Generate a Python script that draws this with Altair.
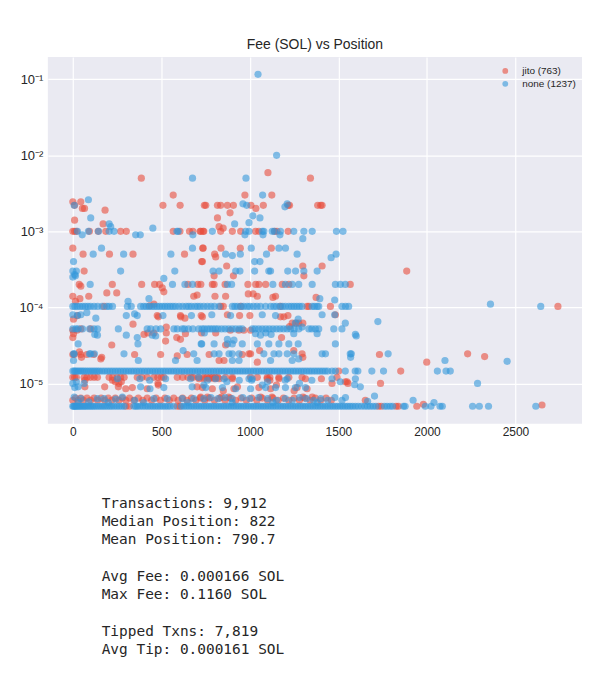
import altair as alt
import pandas as pd

JITO = "jito (763)"
NONE = "none (1237)"
RED = "#e74c3c"
BLUE = "#3498db"

# ---------------- jito (red) ----------------
J_60E6 = [0, 30, 60, 100, 140, 180, 220, 260, 300, 345, 395, 445, 495, 545, 595, 645, 695,
          745, 800, 860, 920, 980, 1040, 1100, 1160, 1220, 1280, 1340, 1400, 1460, 1652]
J_64E6 = [15, 45, 80, 120, 160, 200, 240, 280, 320, 370, 420, 470, 520, 570, 620, 670, 720,
          770, 830, 890, 950, 1010, 1070, 1130, 1190, 1250, 1310, 1370, 1430]
J_5E6 = [300, 320, 590, 605, 1727, 1742, 1826, 1839, 1943]
J_12E5 = [0, 10, 20, 64, 80, 100, 120, 139, 205, 225, 250, 270, 290, 364, 390, 420, 458, 480,
          500, 514, 590, 620, 650, 680, 710, 740, 758, 775, 790, 805, 820, 863, 901, 1004, 1042,
          1098, 1113, 1164, 1220, 1295]
J_22E4 = [509, 606, 743, 751, 817, 835, 873, 907, 1006, 1076, 1216, 1224, 1383, 1400, 1408]
J_1E3 = [0, 10, 20, 94, 143, 186, 270, 302, 567, 605, 659, 678, 719, 723, 736, 740, 835, 901,
         948, 1032, 1051, 1140, 1153, 1216]
J_2E4 = [36, 223, 389, 462, 490, 650, 706, 723, 788, 798, 860, 989, 1033, 1051, 1089, 1183,
         1220, 1567]
J_OTHER = [
    (387, 5e-3), (1342, 5e-3), (1102, 5.9e-3), (567, 3e-3), (972, 3e-3), (1124, 3e-3),
    (0, 2.45e-3), (45, 2.45e-3), (54, 2e-3), (66, 2e-3), (10, 2.2e-3), (182, 1.9e-3),
    (1034, 2e-3), (888, 1.75e-3), (817, 1.5e-3), (826, 1.15e-3), (849, 1.1e-3), (10, 1.4e-3),
    (171, 1.25e-3), (0, 6e-4), (734, 6e-4), (736, 6e-4), (837, 6e-4), (946, 6e-4), (1121, 6e-4),
    (58, 5e-4), (207, 5e-4), (340, 5e-4), (631, 5e-4), (801, 5e-4), (807, 4.6e-4), (728, 4e-4),
    (732, 4e-4), (1299, 3.5e-4), (1408, 3.5e-4), (64, 3e-4), (869, 3.5e-4), (907, 2.6e-4),
    (798, 2.6e-4), (1305, 2.6e-4), (1886, 3e-4), (45, 1.9e-4), (505, 1.8e-4), (514, 1.6e-4),
    (192, 1.55e-4), (248, 1.55e-4), (991, 1.5e-4), (1019, 1.5e-4), (1042, 1.4e-4),
    (1145, 1.4e-4), (803, 1.4e-4), (863, 1.4e-4), (1130, 1.35e-4), (1374, 1.35e-4),
    (683, 1.4e-4), (702, 1.45e-4), (0, 1.4e-4), (40, 1.3e-4), (15, 1.2e-4), (90, 1.4e-4),
    (177, 1.03e-4), (434, 1.05e-4), (458, 1.1e-4), (835, 1.03e-4), (850, 1.03e-4),
    (948, 1.03e-4), (1173, 1.03e-4), (1323, 1.03e-4), (1333, 1.03e-4), (1455, 1.03e-4),
    (2740, 1.03e-4), (26, 7.8e-5), (4, 7e-5), (477, 7.8e-5), (608, 7.8e-5), (633, 7.2e-5),
    (725, 7.8e-5), (483, 7.5e-5), (610, 7.5e-5), (732, 7.5e-5), (873, 8e-5), (942, 7.8e-5),
    (1000, 7.8e-5), (1215, 7.8e-5), (1483, 8e-5), (1173, 7.5e-5), (1192, 7.5e-5), (340, 6e-5),
    (1239, 6.2e-5), (1261, 6.2e-5), (1276, 6.2e-5), (1299, 6.2e-5), (1224, 5.6e-5),
    (528, 5.5e-5), (0, 5e-5), (23, 5e-5), (45, 5.2e-5), (101, 5.2e-5), (402, 4.4e-5),
    (424, 4.6e-5), (458, 4.6e-5), (528, 4.6e-5), (636, 4.5e-5), (727, 4.6e-5), (807, 4.6e-5),
    (890, 5e-5), (938, 5e-5), (966, 5e-5), (1004, 5e-5), (4, 4.5e-5), (0, 4e-5), (587, 4e-5),
    (524, 3.6e-5), (608, 3.8e-5), (863, 3.2e-5), (1179, 4e-5), (220, 3.2e-5), (37, 2.6e-5),
    (0, 2.4e-5), (8, 2.4e-5), (45, 2.4e-5), (79, 2.4e-5), (117, 2.4e-5), (49, 2.2e-5),
    (158, 2.1e-5), (163, 2.2e-5), (349, 2.4e-5), (496, 2.4e-5), (590, 2.3e-5), (646, 2.4e-5),
    (770, 2.4e-5), (826, 2e-5), (854, 2e-5), (957, 2.4e-5), (995, 2.45e-5), (1004, 2.45e-5),
    (1042, 1.9e-5), (1055, 2.7e-5), (1248, 2.7e-5), (1295, 2.45e-5), (1299, 2.2e-5),
    (1732, 2.4e-5), (1999, 1.9e-5), (2230, 2.45e-5), (2326, 2.25e-5), (1502, 1.45e-5),
    (1852, 1.45e-5), (224, 1.1e-5), (240, 1.05e-5), (260, 1e-5), (274, 1.05e-5), (68, 1.1e-5),
    (68, 9e-6), (180, 9e-6), (257, 9e-6), (299, 8.5e-6), (336, 8.8e-6), (420, 8.5e-6),
    (483, 9.5e-6), (702, 9e-6), (481, 1e-5), (670, 1.2e-5), (713, 1.15e-5), (740, 1.15e-5),
    (770, 1.15e-5), (800, 1.15e-5), (826, 1.15e-5), (901, 1.15e-5), (1098, 1.15e-5),
    (1113, 1.1e-5), (1164, 1.15e-5), (1314, 1.15e-5), (1404, 1.15e-5), (1549, 1.05e-5),
    (732, 8.8e-6), (788, 8.5e-6), (910, 8.5e-6), (1051, 8.8e-6), (1117, 8.5e-6), (1267, 8.8e-6),
    (1323, 8.5e-6), (1464, 1e-5), (1492, 1.2e-5), (1539, 1.05e-5), (1554, 1e-5), (1738, 1e-5),
    (850, 8e-6), (930, 9e-6), (1150, 9.5e-6), (1250, 8e-6), (1980, 5.3e-6), (2650, 5.2e-6),
    (722, 6.6e-6), (760, 6.6e-6), (840, 6.6e-6), (880, 6.6e-6), (1060, 6.6e-6), (1125, 6.6e-6),
    (1300, 6.6e-6), (1352, 6.6e-6),
]

# ---------------- none (blue) ----------------
N_5E6 = [0, 5, 10, 16, 22, 30, 38, 46, 55, 64, 72, 82, 92, 102, 112, 122, 134, 146, 158, 170,
         182, 195, 208, 220, 234, 248, 262, 276, 290, 345, 356, 366, 380, 395, 410, 424, 438,
         452, 466, 480, 494, 508, 522, 536, 550, 570, 614, 628, 642, 656, 670, 684, 698, 712,
         726, 740, 754, 768, 782, 796, 810, 824, 838, 852, 866, 880, 894, 908, 922, 936, 950,
         964, 978, 992, 1006, 1020, 1034, 1048, 1062, 1076, 1090, 1104, 1118, 1132, 1146, 1160,
         1174, 1188, 1202, 1216, 1230, 1244, 1258, 1272, 1286, 1300, 1314, 1328, 1342, 1356,
         1370, 1384, 1398, 1412, 1426, 1440, 1454, 1468, 1482, 1496, 1510, 1524, 1538, 1552,
         1566, 1580, 1596, 1612, 1630, 1648, 1664, 1680, 1696, 1712, 1760, 1775, 1792, 1806,
         1868, 1877, 1991, 2023, 2074, 2087, 2258, 2296, 2348, 2615]
N_145E5 = [0, 8, 16, 25, 35, 45, 55, 66, 78, 90, 102, 114, 126, 138, 150, 165, 180, 195, 210,
           225, 240, 255, 270, 285, 300, 315, 330, 345, 360, 375, 390, 405, 420, 435, 450, 465,
           480, 495, 510, 525, 540, 555, 570, 585, 600, 615, 630, 645, 660, 675, 690, 705, 720,
           735, 750, 765, 780, 795, 810, 825, 840, 855, 870, 885, 900, 915, 930, 945, 960, 975,
           990, 1005, 1020, 1035, 1050, 1065, 1080, 1095, 1110, 1125, 1140, 1155, 1170, 1185,
           1200, 1215, 1230, 1245, 1260, 1275, 1290, 1305, 1320, 1335, 1350, 1365, 1380, 1395,
           1410, 1425, 1440, 1464, 1483, 1539, 1595, 1610, 1689, 1755, 2059, 2108, 2132]
N_1E4 = [0, 12, 25, 40, 55, 70, 85, 100, 120, 140, 165, 192, 205, 224, 308, 383, 400, 415, 430,
         445, 460, 475, 490, 505, 520, 535, 550, 565, 580, 600, 620, 640, 655, 670, 690, 705,
         720, 740, 760, 780, 800, 826, 901, 915, 930, 950, 965, 985, 1000, 1020, 1040, 1060,
         1089, 1117, 1135, 1150, 1170, 1185, 1201, 1220, 1235, 1250, 1265, 1280, 1295, 1352,
         1365, 1380, 1389, 1520, 1540, 1558]
N_5E5 = [0, 17, 30, 55, 95, 120, 140, 257, 420, 440, 470, 496, 571, 590, 618, 631, 653, 678,
         711, 730, 743, 760, 775, 790, 805, 820, 840, 860, 880, 900, 920, 940, 957, 1014, 1030,
         1050, 1070, 1090, 1110, 1130, 1150, 1170, 1190, 1210, 1230, 1250, 1276, 1333, 1350,
         1370, 1389, 1474, 1520]
N_1E3 = [26, 88, 145, 205, 233, 588, 595, 788, 976, 995, 1070, 1079, 1126, 1138, 1173, 1248,
         1305, 1352, 1489, 1526]
N_3E4 = [0, 20, 270, 576, 792, 826, 920, 944, 1027, 1107, 1117, 1214, 1258, 1305, 1380]
N_2E4 = [98, 563, 633, 676, 873, 897, 1130, 1201, 1239, 1276, 1352, 1483, 1511, 1539]
N_24E5 = [4, 8, 94, 101, 122, 289, 683, 798, 826, 882, 901, 939, 1079, 1136, 1164, 1211, 1248,
          1408, 1427, 1567, 1573, 1781]
N_33E5 = [728, 798, 873, 901, 957, 1042, 1107, 1164, 1220, 1273, 1483, 30, 368, 725]
N_OTHER = [
    (1046, 0.116), (1151, 1e-2), (676, 5e-3), (978, 5e-3), (1072, 3e-3), (8, 2.2e-3),
    (88, 2.6e-3), (961, 2.3e-3), (982, 2.2e-3), (1198, 2.1e-3), (1211, 2.3e-3), (101, 1.5e-3),
    (205, 1.25e-3), (214, 1.15e-3), (1017, 1.6e-3), (1057, 1.5e-3), (995, 1.3e-3),
    (914, 1.25e-3), (452, 1.1e-3), (53, 9e-4), (355, 9e-4), (381, 9e-4), (678, 9e-4),
    (972, 9e-4), (1074, 9e-4), (1170, 9e-4), (1299, 8e-4), (162, 6e-4), (115, 5e-4),
    (287, 5e-4), (554, 5e-4), (676, 6e-4), (863, 5e-4), (901, 4.8e-4), (946, 5e-4),
    (1008, 6e-4), (1164, 6e-4), (1201, 6e-4), (1267, 5e-4), (1487, 5e-4), (1459, 4.5e-4),
    (1094, 5e-4), (4, 4e-4), (1027, 4e-4), (1057, 4e-4), (10, 2.7e-4), (0, 2.5e-4),
    (15, 2.6e-4), (514, 2.4e-4), (1479, 1.25e-4), (1395, 1.3e-4), (312, 1.2e-4),
    (330, 1.03e-4), (430, 1.3e-4), (2359, 1.1e-4), (2643, 1.03e-4), (0, 8e-5), (26, 7.8e-5),
    (45, 8e-5), (79, 8.5e-5), (130, 7.2e-5), (302, 7.8e-5), (349, 8.2e-5), (364, 7.8e-5),
    (509, 7.8e-5), (670, 7.8e-5), (785, 8e-5), (891, 7.8e-5), (1070, 8e-5), (1145, 7.8e-5),
    (1273, 7e-5), (1408, 8e-5), (1479, 8e-5), (1723, 6.5e-5), (1539, 6.2e-5), (1257, 6.2e-5),
    (1295, 5.5e-5), (124, 4.4e-5), (139, 4.3e-5), (302, 4.3e-5), (364, 4e-5), (449, 4.3e-5),
    (468, 4.2e-5), (743, 4.6e-5), (1032, 4.5e-5), (1060, 4.3e-5), (1090, 4.6e-5),
    (1120, 4.4e-5), (1596, 4.4e-5), (1380, 4.5e-5), (873, 3.8e-5), (910, 3.7e-5),
    (1248, 4.5e-5), (1601, 4.2e-5), (623, 2.7e-5), (370, 2e-5), (702, 2e-5), (580, 2e-5),
    (901, 2e-5), (939, 2e-5), (1117, 2e-5), (1239, 2e-5), (1276, 2.1e-5), (1569, 2.2e-5),
    (2102, 2e-5), (2453, 1.95e-5), (4, 2e-5), (0, 1e-5), (20, 1.05e-5), (64, 1e-5),
    (252, 1.15e-5), (379, 1.15e-5), (434, 1.1e-5), (524, 1.15e-5), (665, 1.15e-5),
    (711, 1.2e-5), (807, 1.15e-5), (854, 1.15e-5), (995, 1.15e-5), (1014, 1.15e-5),
    (1211, 1.15e-5), (1464, 1.15e-5), (1511, 1.05e-5), (1596, 1.15e-5), (11, 8.8e-6),
    (30, 9e-6), (383, 9e-6), (436, 8.5e-6), (514, 8.8e-6), (674, 9e-6), (740, 9.5e-6),
    (751, 8.8e-6), (845, 8.8e-6), (920, 8.5e-6), (1004, 8.5e-6), (1070, 9.5e-6),
    (1089, 8.8e-6), (1145, 8.8e-6), (1201, 8.8e-6), (1257, 8.8e-6), (1314, 8.8e-6),
    (1592, 9.6e-6), (1624, 9e-6), (2286, 1e-5), (1704, 6.8e-6), (1665, 5.8e-6),
    (1922, 6e-6), (2040, 5.6e-6), (8, 6.6e-6), (45, 6.3e-6), (139, 6.3e-6), (177, 6.3e-6),
    (242, 6.2e-6), (280, 6.6e-6), (349, 6e-6), (458, 6.3e-6), (533, 6.3e-6), (618, 6.3e-6),
    (683, 6.3e-6), (740, 6.3e-6), (780, 6.5e-6), (820, 6.3e-6), (860, 6.5e-6), (900, 6.3e-6),
    (960, 6.5e-6), (1000, 6.3e-6), (1050, 6.5e-6), (1100, 6.3e-6), (1150, 6e-6),
    (1200, 6.3e-6), (1240, 6e-6), (1280, 6.5e-6), (1320, 6.3e-6), (1360, 6e-6),
    (1400, 6.3e-6), (1440, 6e-6), (1480, 6.5e-6), (1520, 6e-6), (1540, 6.5e-6),
    (760, 1.1e-5), (870, 1.05e-5), (940, 1.1e-5), (1010, 1.1e-5), (1100, 1.05e-5),
    (1200, 1.1e-5), (1280, 1e-5), (1350, 1.1e-5), (30, 5.6e-6), (90, 5.7e-6), (200, 5.6e-6),
    (400, 5.6e-6), (650, 5.6e-6), (900, 5.6e-6), (1130, 5.6e-6), (1380, 5.6e-6),
]

STATS_LINES = [
    "Transactions: 9,912",
    "Median Position: 822",
    "Mean Position: 790.7",
    "",
    "Avg Fee: 0.000166 SOL",
    "Max Fee: 0.1160 SOL",
    "",
    "Tipped Txns: 7,819",
    "Avg Tip: 0.000161 SOL",
]

X_TICKS = [0, 500, 1000, 1500, 2000, 2500]
Y_TICKS = [1e-5, 1e-4, 1e-3, 1e-2, 1e-1]

rows = []


def add_band(group, positions, fee):
    for p in positions:
        rows.append({"pos": p, "fee": fee, "group": group})


def add_pairs(group, pairs):
    for p, f in pairs:
        rows.append({"pos": p, "fee": f, "group": group})


add_band(JITO, J_60E6, 6.0e-6)
add_band(JITO, J_64E6, 6.4e-6)
add_band(JITO, J_5E6, 5e-6)
add_band(JITO, J_12E5, 1.2e-5)
add_band(JITO, J_22E4, 2.2e-3)
add_band(JITO, J_1E3, 1e-3)
add_band(JITO, J_2E4, 2e-4)
add_pairs(JITO, J_OTHER)
add_band(NONE, N_5E6, 5e-6)
add_band(NONE, N_145E5, 1.45e-5)
add_band(NONE, N_1E4, 1.03e-4)
add_band(NONE, N_5E5, 5.2e-5)
add_band(NONE, N_1E3, 1e-3)
add_band(NONE, N_3E4, 3e-4)
add_band(NONE, N_2E4, 2e-4)
add_band(NONE, N_24E5, 2.45e-5)
add_band(NONE, N_33E5, 3.3e-5)
add_pairs(NONE, N_OTHER)

df = pd.DataFrame(rows)

stats_df = pd.DataFrame({"line": list(range(len(STATS_LINES))), "text": STATS_LINES})
stats_df = stats_df[stats_df["text"] != ""]

label_expr = ("datum.value >= 0.05 ? '10⁻¹' : datum.value >= 0.005 ? '10⁻²' : "
              "datum.value >= 0.0005 ? '10⁻³' : datum.value >= 0.00005 ? '10⁻⁴' : '10⁻⁵'")

points = alt.Chart(df).mark_circle(size=52, opacity=0.6).encode(
    x=alt.X("pos:Q",
            scale=alt.Scale(domain=[-141, 2876], nice=False, zero=False),
            axis=alt.Axis(values=X_TICKS, format="d", title=None, labelPadding=3)),
    y=alt.Y("fee:Q",
            scale=alt.Scale(type="log", domain=[2.95e-6, 0.1965], nice=False),
            axis=alt.Axis(values=Y_TICKS, labelExpr=label_expr, title=None, labelPadding=5,
                          labelFontSize=13)),
    color=alt.Color("group:N",
                    scale=alt.Scale(domain=[JITO, NONE], range=[RED, BLUE]),
                    legend=alt.Legend(title=None, orient="none", legendX=454, legendY=9,
                                      symbolType="circle", symbolSize=34, symbolOpacity=0.6,
                                      symbolStrokeWidth=0, labelFont="Liberation Sans",
                                      labelFontSize=10, labelColor="#262626", labelOffset=12,
                                      rowPadding=3, padding=0)),
)

stats = alt.Chart(stats_df).mark_text(
    align="left", baseline="middle", font="DejaVu Sans Mono", fontSize=14.5,
    color="#262626"
).encode(
    text="text:N",
    x=alt.value(54),
    y=alt.Y("line:Q", scale=alt.Scale(domain=[0, 8], range=[448.5, 594.9]), axis=None),
)

chart = alt.layer(points, stats).resolve_scale(y="independent").properties(
    width=536, height=368,
    title=alt.TitleParams("Fee (SOL) vs Position", font="Liberation Sans", fontSize=14,
                          fontWeight="normal", color="#262626", anchor="middle", offset=5),
    autosize=alt.AutoSizeParams(type="none"),
    padding={"left": 40, "top": 48, "right": 0, "bottom": 236},
).configure_view(fill="#EAEAF2", stroke=None).configure_axis(
    grid=True, gridColor="#ffffff", gridWidth=1.2, domain=False, ticks=False,
    labelFont="Liberation Sans", labelFontSize=12, labelColor="#262626",
)

chart.save("out.html", embed_options={"renderer": "svg", "actions": False})
